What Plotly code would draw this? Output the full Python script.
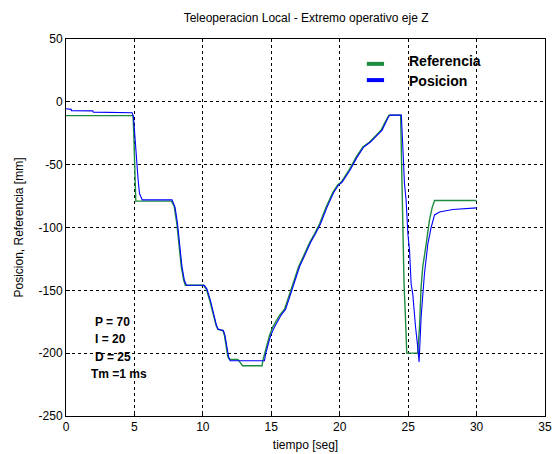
import plotly.graph_objects as go

# Referencia (green)
t_ref = [0, 4.9, 4.95, 5.0, 5.05, 5.1, 7.7, 7.9, 8.1, 8.25, 8.42, 8.6, 8.72,
         10.05, 10.25, 10.5, 10.73, 10.97, 11.1, 11.46, 11.58, 11.7, 11.83, 11.95,
         12.56, 12.9, 14.33, 14.38, 14.63, 14.87, 15.11, 15.36, 15.6, 15.97, 16.33,
         16.7, 17.0, 17.43, 17.8, 18.16, 18.53, 19.0, 19.5, 19.86, 20.1, 20.7, 21.2,
         21.69, 22.18, 22.67, 23.03, 23.27, 23.51, 23.6, 24.45, 24.52, 24.62, 24.7,
         24.8, 24.9, 25.7, 25.83, 25.95, 26.07, 26.32, 26.56, 26.76, 26.93, 30]
v_ref = [-11, -11, -25, -45, -65, -79, -79, -83, -97, -115, -131, -142, -146,
         -146, -149, -158, -169, -178, -181, -182, -186, -195, -203, -205,
         -205, -210, -210, -206, -195, -186, -179, -174, -170, -165, -153,
         -142, -131, -121, -112, -105, -97, -84, -72, -66, -64, -54, -44,
         -36, -32, -26.5, -22.5, -17, -11.5, -10.6, -10.6, -46, -107, -145,
         -171, -200, -200, -179, -147, -131, -113, -94, -84, -78.5, -78.5]

# Posicion (blue)
t_pos = [0, 0.38, 0.4, 1.96, 2.0, 3.9, 3.95, 4.83, 4.93, 5.08, 5.18, 5.27, 5.37,
         5.57, 7.75, 7.97, 8.15, 8.3, 8.47, 8.65, 8.8, 10.1, 10.3, 10.55, 10.78,
         11.0, 11.12, 11.5, 11.62, 11.75, 11.88, 12.0, 14.5, 14.6, 14.75, 14.95,
         15.2, 15.45, 15.7, 16.05, 16.4, 16.77, 17.07, 17.5, 17.87, 18.23, 18.6,
         19.07, 19.57, 19.93, 20.17, 20.77, 21.27, 21.76, 22.25, 22.74, 23.1,
         23.34, 23.58, 23.7, 24.5, 24.6, 24.73, 24.85, 24.98, 25.1, 25.22, 25.34,
         25.47, 25.54, 25.7, 25.8, 25.95, 26.19, 26.44, 26.68, 26.93, 27.29,
         28.26, 30]
v_pos = [-5.5, -6, -7, -7.2, -8.2, -8.2, -8.7, -8.7, -12, -36, -49, -62, -73,
         -78, -78, -84, -97, -115, -131, -142, -146, -146, -149, -158, -169,
         -178, -181, -182, -186, -195, -203, -206, -206, -200, -193, -186,
         -180, -175, -170, -165, -153, -142, -131, -121, -112, -105, -97,
         -84, -72, -66, -64, -54, -44, -36, -32, -26.5, -22.5,
         -17, -11.5, -10.6, -10.6, -33, -65, -78, -105, -118, -145, -153,
         -174, -179, -195, -207, -171, -137, -113, -100, -90, -87.6,
         -85.7, -84.4]

x_ticks = [0, 5, 10, 15, 20, 25, 30, 35]
y_ticks = [50, 0, -50, -100, -150, -200, -250]
series_names = ["Referencia", "Posicion"]
pid_labels = ["P = 70", "I = 20", "D = 25", "Tm =1 ms"]

GREEN = "#1e8c3e"
BLUE = "#0000ff"
FONT = "Liberation Sans, Arial, sans-serif"

fig = go.Figure()
fig.add_trace(go.Scatter(x=t_ref, y=v_ref, mode="lines", name=series_names[0],
                         line=dict(color=GREEN, width=1.4), showlegend=False))
fig.add_trace(go.Scatter(x=t_pos, y=v_pos, mode="lines", name=series_names[1],
                         line=dict(color=BLUE, width=1.1), showlegend=False))

axis_common = dict(
    showgrid=True, gridcolor="black", gridwidth=1, griddash="3px,3px",
    zeroline=False, showline=True, linecolor="black", linewidth=1, mirror=True,
    ticks="inside", ticklen=4, tickcolor="black", automargin=False,
    tickfont=dict(family=FONT, size=12, color="black"),
)

fig.update_layout(
    width=553, height=454,
    margin=dict(l=66, r=8, t=39, b=38),
    paper_bgcolor="white", plot_bgcolor="white",
    font=dict(family=FONT, size=12, color="black"),
    title=dict(text="Teleoperacion Local - Extremo operativo eje Z",
               x=0.5535, xanchor="center", y=1 - 18 / 454, yanchor="middle",
               font=dict(family=FONT, size=12, color="black")),
    xaxis=dict(range=[0, 35], tickvals=x_ticks, ticktext=[str(v) for v in x_ticks],
               title=dict(text="tiempo [seg]", standoff=7,
                          font=dict(family=FONT, size=12)),
               **axis_common),
    yaxis=dict(range=[-250, 50], tickvals=y_ticks, ticktext=[str(v) for v in y_ticks],
               title=dict(text="Posicion, Referencia [mm]", standoff=12,
                          font=dict(family=FONT, size=12)),
               **axis_common),
    showlegend=False,
)

# Legend (drawn manually to match the reference)
legend_y = [0.934, 0.891]
legend_text_y = [0.942, 0.889]
for name, col, ly, ty in zip(series_names, [GREEN, BLUE], legend_y, legend_text_y):
    fig.add_shape(type="line", xref="paper", yref="paper",
                  x0=0.628, x1=0.664, y0=ly, y1=ly,
                  line=dict(color=col, width=4))
    fig.add_annotation(text="<b>" + name + "</b>", xref="paper", yref="paper",
                       x=0.712, y=ty, xanchor="left", yanchor="middle",
                       showarrow=False, font=dict(family=FONT, size=14, color="black"))

# PID parameters text
pid_x = [0.056, 0.056, 0.056, 0.048]
pid_y = [0.249, 0.204, 0.156, 0.111]
for txt, px, py in zip(pid_labels, pid_x, pid_y):
    fig.add_annotation(text="<b>" + txt + "</b>", xref="paper", yref="paper",
                       x=px, y=py, xanchor="left", yanchor="middle",
                       showarrow=False, font=dict(family=FONT, size=12, color="black"))

fig.write_html("out.html")
